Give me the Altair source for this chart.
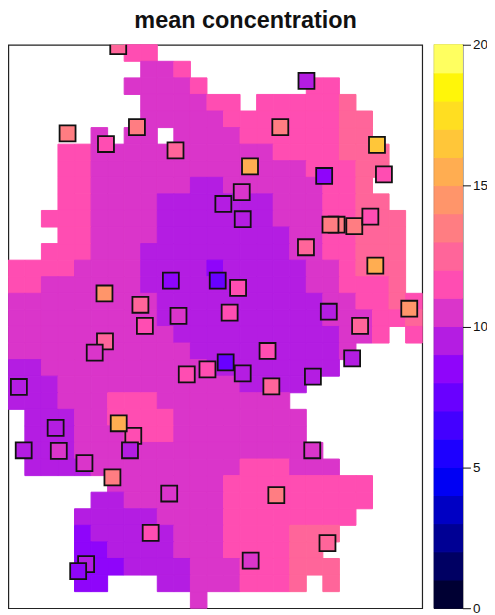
import altair as alt

TITLE = "mean concentration"
PALETTE = ["#000033", "#000063", "#000094", "#0000C4", "#0000F4", "#1D00FF", "#4300FF",
           "#6900FF", "#8F05FA", "#B41DE2", "#DA35CA", "#FF4DB2", "#FF659A", "#FF7D82",
           "#FF956A", "#FFAD51", "#FFC639", "#FFDE21", "#FFF609", "#FFFF60"]
BREAKS = list(range(1, 20))
TICKS = [0, 5, 10, 15, 20]
CELL_VALUE = {"a": 12.5, "b": 11.5, "c": 10.5, "d": 9.5, "e": 8.5}

GRID = [
    ".......bb................",
    "........ccb..............",
    ".......ccccb......bb.....",
    "........ccccbb.bbbbba....",
    "........cccccbbbbbbbaa...",
    ".....c.cc.ccccbbbbbbaa...",
    "...bbcccccccccccbbbbaaa..",
    "...bbcccccccccccccbbbaa..",
    "...bbccccccddccccccbba...",
    "...bbccccdddddddcccbbaa..",
    "..bbbccccdddddddcccbbaaa.",
    "...bbccccddddddddccbbaaa.",
    "..bbbcccdddddddddccbbaaa.",
    "bbbbccccddddedddddccbaaa.",
    "bbccccccddddddddddccbbba.",
    "cccccccccddddddddddccbbab",
    "cccccccccddddddddddcccbba",
    "ccccccccccddddddddddccb.b",
    "cccccccccccdddddddddc....",
    "ddccccccccccdddddddd.....",
    "dddcccccccccccdddd.......",
    "dddcccbbbcccccccc........",
    ".dddccbbbbcccccccc.......",
    ".dddcccbbbcccccccc.......",
    ".dddccccccccccccccc......",
    ".ddddcccccccccbbbccc.....",
    "......cccccccbbbbbbbbb...",
    ".....ddccccccbbbbbbbbb...",
    "....dddddccccbbbbbbbb....",
    "....edddddcccbbbbaaa.....",
    "....eeddddcccbbbbaa......",
    "....eeeddddcccbbbaaa.....",
    "....ee...ddcccbbba.a.....",
    "...........c.............",
]

STATION_X = [6.64, 3.58, 7.77, 5.90, 10.10, 18.01, 16.43, 22.27, 14.60, 19.08, 22.69, 14.10,
             12.99, 14.16, 19.83, 19.46, 20.90, 21.87, 17.98, 22.17, 12.65, 9.82, 13.88,
             24.22, 5.81, 7.98, 13.37, 10.28, 19.36, 21.25, 8.25, 5.84, 5.22, 10.78, 12.03,
             13.13, 15.66, 14.16, 15.89, 18.40, 20.77, 0.64, 7.55, 6.67, 2.86, 0.93, 3.05,
             7.35, 4.60, 6.29, 9.72, 8.60, 4.70, 4.22, 18.36, 16.19, 19.28, 14.64]
STATION_Y = [0.09, 5.35, 4.97, 5.99, 6.37, 2.18, 4.97, 6.04, 7.34, 7.92, 7.82, 8.89,
             9.61, 10.53, 10.86, 10.86, 10.95, 10.37, 12.22, 13.33, 14.23, 14.23, 14.67,
             15.93, 15.01, 15.69, 16.16, 16.36, 16.11, 16.96, 16.96, 17.90, 18.58, 19.89, 19.59,
             19.17, 18.48, 19.83, 20.61, 20.03, 18.93, 20.65, 23.60, 22.84, 23.12, 24.47, 24.51,
             24.47, 25.25, 26.11, 27.08, 29.45, 31.34, 31.76, 24.47, 27.18, 30.07, 31.13]
STATION_VALUE = [12.5, 13.5, 13.5, 11.5, 12.5, 9.5, 13.5, 16.5, 15.5, 8.5, 11.5, 10.5,
                 9.5, 9.5, 13.5, 13.5, 13.5, 11.5, 12.5, 15.5, 7.5, 8.5, 11.5,
                 14.5, 14.5, 12.5, 11.5, 10.5, 9.5, 12.5, 11.5, 12.5, 10.5, 11.5, 11.5,
                 7.5, 11.5, 9.5, 12.5, 9.5, 9.5, 9.5, 11.5, 15.5, 9.5, 9.5, 10.5,
                 9.5, 10.5, 13.5, 10.5, 11.5, 9.5, 8.5, 10.5, 13.5, 12.5, 10.5]

cells = [
    {"col": c, "col2": c + 1, "row": r, "row2": r + 1, "value": CELL_VALUE[ch]}
    for r, line in enumerate(GRID)
    for c, ch in enumerate(line)
    if ch != "."
]
stations = [{"x": x, "y": y, "value": v} for x, y, v in zip(STATION_X, STATION_Y, STATION_VALUE)]
bar = [{"low": i, "high": i + 1, "value": i + 0.5} for i in range(20)]

color_scale = alt.Scale(type="threshold", domain=BREAKS, range=PALETTE)
x_scale = alt.Scale(domain=[0, 25], zero=False, nice=False)
y_scale = alt.Scale(domain=[34, 0], zero=False, nice=False)

cell_layer = alt.Chart(alt.Data(values=cells)).mark_rect(strokeWidth=1, opacity=1).encode(
    x=alt.X("col:Q", scale=x_scale, axis=None),
    x2="col2:Q",
    y=alt.Y("row:Q", scale=y_scale, axis=None),
    y2="row2:Q",
    color=alt.Color("value:Q", scale=color_scale, legend=None),
    stroke=alt.Stroke("value:Q", scale=color_scale, legend=None),
)
station_layer = alt.Chart(alt.Data(values=stations)).mark_point(
    shape="square", filled=True, size=256, stroke="#111111", strokeWidth=1.8, opacity=1, clip=True
).encode(
    x=alt.X("x:Q", scale=x_scale, axis=None),
    y=alt.Y("y:Q", scale=y_scale, axis=None),
    color=alt.Color("value:Q", scale=color_scale, legend=None),
)
map_panel = alt.layer(cell_layer, station_layer).properties(width=415, height=565)

bar_panel = alt.Chart(alt.Data(values=bar)).mark_rect(strokeWidth=1, opacity=1).encode(
    x=alt.value(0),
    x2=alt.value(28.4),
    y=alt.Y(
        "low:Q",
        scale=alt.Scale(domain=[0, 20], nice=False, zero=False),
        axis=alt.Axis(
            orient="right", values=TICKS, title=None, grid=False, domain=False,
            tickSize=8, tickColor="#111111", tickWidth=1, labelFontSize=13.5,
            labelFont="Liberation Sans", labelColor="#111111", labelPadding=2,
            labelFlush=False, labelBound=False, labelOverlap=False, format="d",
        ),
    ),
    y2="high:Q",
    color=alt.Color("value:Q", scale=color_scale, legend=None),
    stroke=alt.Stroke("value:Q", scale=color_scale, legend=None),
).properties(width=28.4, height=565)

chart = alt.hconcat(map_panel, bar_panel, spacing=8).properties(
    padding={"left": -1.7, "top": -1, "right": -2, "bottom": 4},
    title=alt.TitleParams(
        TITLE, font="Liberation Sans", fontSize=23.5, fontWeight="bold", color="#111111",
        anchor="middle", offset=3, dx=-2, dy=-2,
    ),
).configure_view(stroke="#222222", strokeWidth=1.2)

chart.save("out.html", embed_options={"renderer": "svg", "actions": False})
